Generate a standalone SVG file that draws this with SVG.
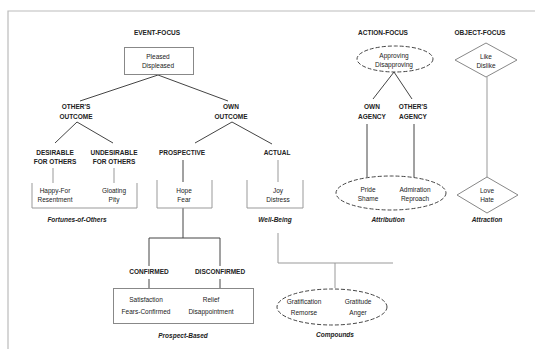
<svg xmlns="http://www.w3.org/2000/svg" width="535" height="349" viewBox="0 0 535 349">
<style>
text{font-family:"Liberation Sans",Arial,sans-serif;fill:#222;text-anchor:middle;font-size:6.5px}
.cat{font-weight:bold}
.grp{font-weight:bold;font-style:italic}
.ln{stroke:#444;stroke-width:1;fill:none}
.lt{stroke:#999;stroke-width:1;fill:none}
.ds{stroke:#444;stroke-width:1;fill:#fff;stroke-dasharray:4,2}
.bx{stroke:#888;stroke-width:1;fill:#fff}
</style>
<rect width="535" height="349" fill="#fff"/>
<path d="M8,349 V11 H535" stroke="#bbb" stroke-width="1.2" fill="none"/>
<g id="connectors">
<path class="ln" d="M80,101 L158,75 L228,101"/>
<path class="ln" d="M55,143 L77,122 L113,143"/>
<path class="ln" d="M195,143 L232,122 L272,144"/>
<path class="lt" d="M53,168 V183 M114,168 V183"/>
<path class="ln" d="M183,160 V182"/>
<path class="lt" d="M278,160 V182"/>
<path class="ln" d="M183,208 V238 M149,266 V238 H220 V266 M149,279 V288 M220,279 V288"/>
<path class="lt" d="M278,233 V263 H393 M335,263 V288"/>
<path class="ln" d="M373,99 L394,72 L412,99"/>
<path class="ln" d="M367,124 V177 M414,124 V177"/>
<path class="lt" d="M487,77 V177"/>
</g>
<g id="event-focus">
<text class="cat" x="157" y="35">EVENT-FOCUS</text>
<rect class="bx" x="124.5" y="47.5" width="69" height="27"/>
<text x="158" y="59">Pleased</text>
<text x="158" y="68">Displeased</text>
</g>
<g id="others-outcome">
<text class="cat" x="76" y="109">OTHER'S</text>
<text class="cat" x="76" y="119">OUTCOME</text>
</g>
<g id="own-outcome">
<text class="cat" x="231" y="109">OWN</text>
<text class="cat" x="231" y="119">OUTCOME</text>
</g>
<g id="desirable">
<text class="cat" x="55" y="155">DESIRABLE</text>
<text class="cat" x="55" y="164">FOR OTHERS</text>
</g>
<g id="undesirable">
<text class="cat" x="114" y="155">UNDESIRABLE</text>
<text class="cat" x="114" y="164">FOR OTHERS</text>
</g>
<g id="prospective"><text class="cat" x="182" y="155">PROSPECTIVE</text></g>
<g id="actual"><text class="cat" x="277" y="155">ACTUAL</text></g>
<g id="fortunes-of-others">
<path class="lt" d="M32,183 V208 H137 V183"/>
<text x="55" y="193">Happy-For</text>
<text x="55" y="202">Resentment</text>
<text x="114" y="193">Gloating</text>
<text x="114" y="202">Pity</text>
<text class="grp" x="77" y="222">Fortunes-of-Others</text>
</g>
<g id="hope-fear">
<path class="lt" d="M157,180 V208 H212 V180"/>
<text x="184" y="193">Hope</text>
<text x="184" y="202">Fear</text>
</g>
<g id="well-being">
<path class="lt" d="M247,180 V208 H303 V180"/>
<text x="278" y="193">Joy</text>
<text x="278" y="202">Distress</text>
<text class="grp" x="275" y="222">Well-Being</text>
</g>
<g id="confirmed"><text class="cat" x="149" y="274">CONFIRMED</text></g>
<g id="disconfirmed"><text class="cat" x="220" y="274">DISCONFIRMED</text></g>
<g id="prospect-based">
<rect class="bx" x="113.5" y="288.5" width="140" height="35"/>
<text x="146" y="302">Satisfaction</text>
<text x="146" y="314">Fears-Confirmed</text>
<text x="211" y="302">Relief</text>
<text x="211" y="314">Disappointment</text>
<text class="grp" x="183" y="338">Prospect-Based</text>
</g>
<g id="compounds">
<ellipse class="ds" cx="332" cy="307" rx="55" ry="18"/>
<text x="304" y="304">Gratification</text>
<text x="304" y="315">Remorse</text>
<text x="358" y="304">Gratitude</text>
<text x="358" y="315">Anger</text>
<text class="grp" x="335" y="337">Compounds</text>
</g>
<g id="action-focus">
<text class="cat" x="383" y="35">ACTION-FOCUS</text>
<ellipse class="ds" cx="395" cy="59" rx="38" ry="13"/>
<text x="394" y="58">Approving</text>
<text x="394" y="67">Disapproving</text>
</g>
<g id="own-agency">
<text class="cat" x="372" y="109">OWN</text>
<text class="cat" x="372" y="119">AGENCY</text>
</g>
<g id="others-agency">
<text class="cat" x="413" y="109">OTHER'S</text>
<text class="cat" x="413" y="119">AGENCY</text>
</g>
<g id="attribution">
<ellipse class="ds" cx="391" cy="193" rx="55" ry="17"/>
<text x="368" y="192">Pride</text>
<text x="368" y="201">Shame</text>
<text x="415" y="192">Admiration</text>
<text x="415" y="201">Reproach</text>
<text class="grp" x="388" y="222">Attribution</text>
</g>
<g id="object-focus">
<text class="cat" x="480" y="35">OBJECT-FOCUS</text>
<polygon class="bx" points="455,60 486,43 517,60 486,77"/>
<text x="486" y="59">Like</text>
<text x="486" y="68">Dislike</text>
</g>
<g id="attraction">
<polygon class="bx" points="457,195 487,177 518,195 487,213"/>
<text x="487" y="193">Love</text>
<text x="487" y="202">Hate</text>
<text class="grp" x="487" y="222">Attraction</text>
</g>
</svg>
